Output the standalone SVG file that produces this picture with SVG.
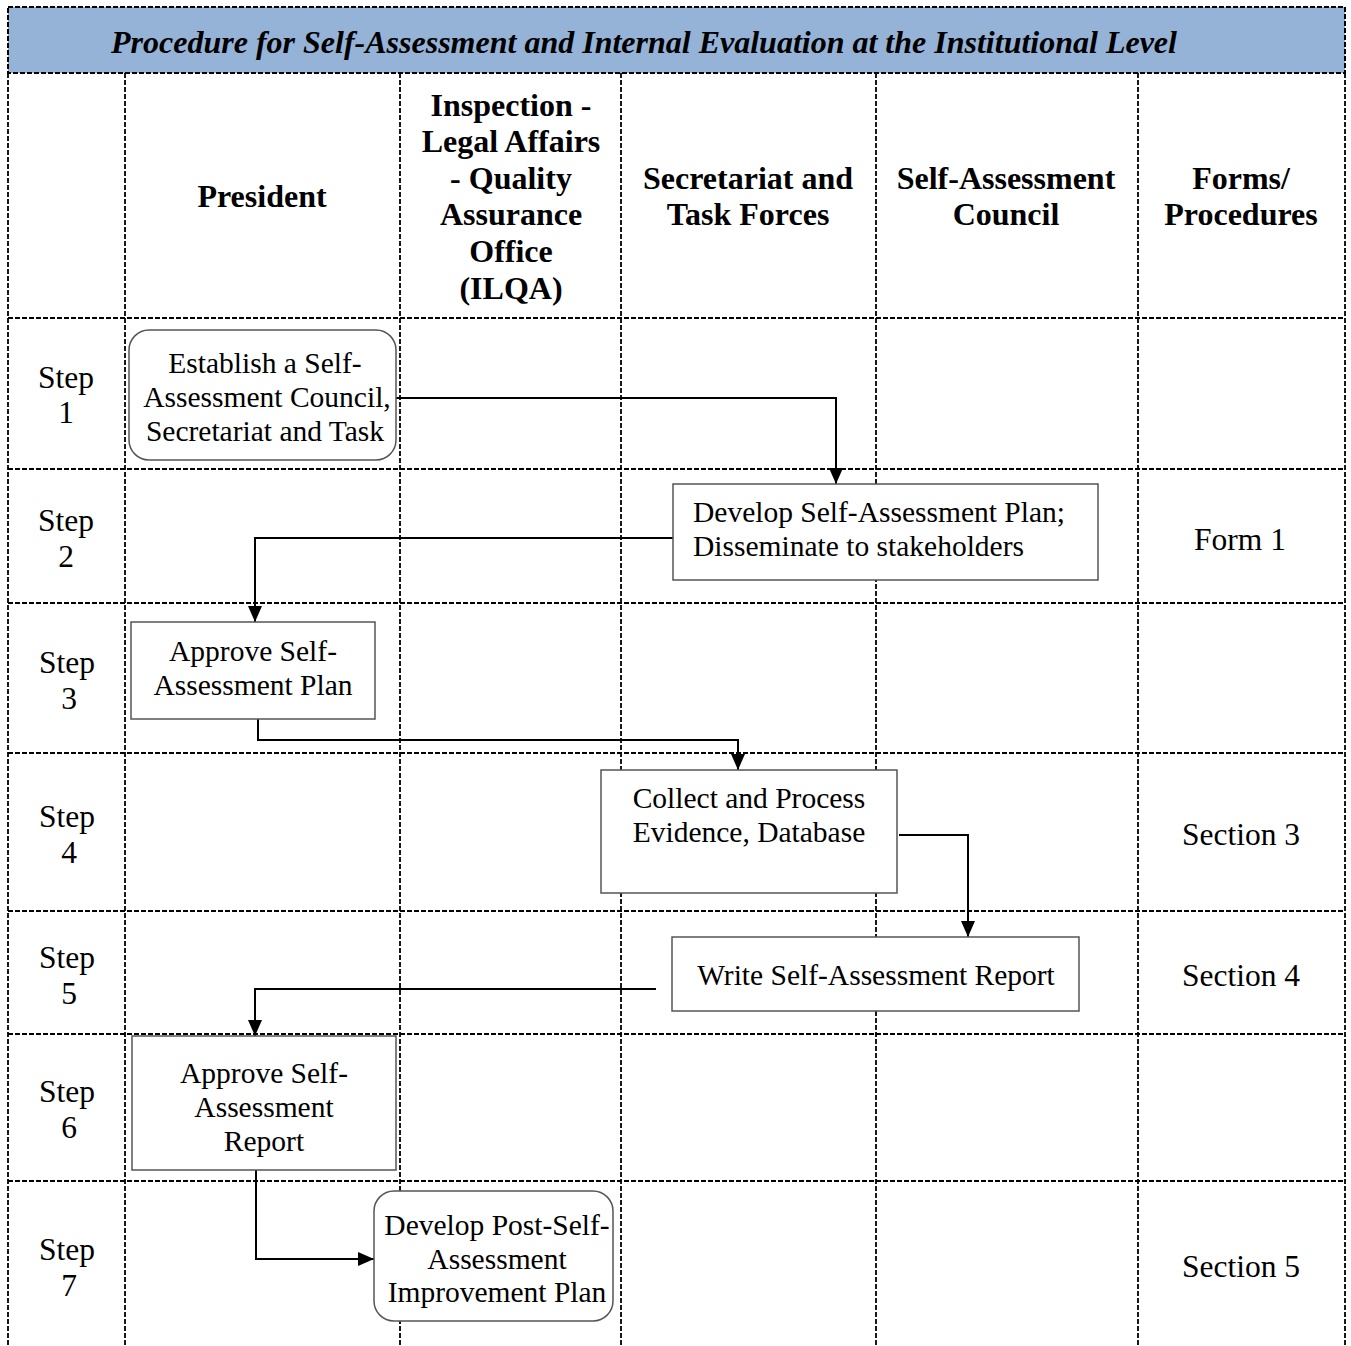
<svg xmlns="http://www.w3.org/2000/svg" width="1351" height="1346" viewBox="0 0 1351 1346">
<defs>
<style>
.grid{stroke:#000;stroke-width:2;stroke-dasharray:5 2;fill:none}
.gv{stroke:#000;stroke-width:1.8;stroke-dasharray:5 2;fill:none}
.box{fill:#fff;stroke:#555;stroke-width:1.5}
.conn{stroke:#000;stroke-width:2;fill:none}
.t{font-family:"Liberation Serif","Times New Roman",serif;font-size:29.5px;fill:#000}
.s{font-size:31.5px}
.h{font-family:"Liberation Serif","Times New Roman",serif;font-size:32px;font-weight:bold;fill:#000;text-anchor:middle}
.c{text-anchor:middle}
</style>
<marker id="arr" viewBox="0 0 16 14" refX="16" refY="7" markerWidth="16" markerHeight="14" orient="auto" markerUnits="userSpaceOnUse">
<path d="M0,0 L16,7 L0,14 Z" fill="#000"/>
</marker>
</defs>
<rect width="1351" height="1346" fill="#fff"/>
<g id="title">
<rect x="8" y="7" width="1337" height="66" style="fill:#95B3D7;stroke:#000;stroke-width:2;stroke-dasharray:5 2"/>
<text x="644" y="53" class="h" style="font-style:italic">Procedure for Self-Assessment and Internal Evaluation at the Institutional Level</text>
</g>
<g id="grid">
<line x1="8" y1="73" x2="8" y2="1346" class="gv"/>
<line x1="125" y1="73" x2="125" y2="1346" class="gv"/>
<line x1="400" y1="73" x2="400" y2="1346" class="gv"/>
<line x1="621" y1="73" x2="621" y2="1346" class="gv"/>
<line x1="876" y1="73" x2="876" y2="1346" class="gv"/>
<line x1="1138" y1="73" x2="1138" y2="1346" class="gv"/>
<line x1="1345" y1="73" x2="1345" y2="1346" class="gv"/>
<line x1="8" y1="318" x2="1345" y2="318" class="grid"/>
<line x1="8" y1="469" x2="1345" y2="469" class="grid"/>
<line x1="8" y1="603" x2="1345" y2="603" class="grid"/>
<line x1="8" y1="753" x2="1345" y2="753" class="grid"/>
<line x1="8" y1="911" x2="1345" y2="911" class="grid"/>
<line x1="8" y1="1034" x2="1345" y2="1034" class="grid"/>
<line x1="8" y1="1181" x2="1345" y2="1181" class="grid"/>
</g>
<g id="headers">
<text x="262" y="207" class="h">President</text>
<text x="511" y="116" class="h">Inspection -</text>
<text x="511" y="152" class="h">Legal Affairs</text>
<text x="511" y="189" class="h">- Quality</text>
<text x="511" y="225" class="h">Assurance</text>
<text x="511" y="262" class="h">Office</text>
<text x="511" y="299" class="h">(ILQA)</text>
<text x="748" y="189" class="h">Secretariat and</text>
<text x="748" y="225" class="h">Task Forces</text>
<text x="1006" y="189" class="h">Self-Assessment</text>
<text x="1006" y="225" class="h">Council</text>
<text x="1241" y="189" class="h">Forms/</text>
<text x="1241" y="225" class="h">Procedures</text>
</g>
<g id="steps" class="t s c">
<text x="66" y="388">Step</text><text x="66" y="423">1</text>
<text x="66" y="531">Step</text><text x="66" y="567">2</text>
<text x="67" y="673">Step</text><text x="69" y="709">3</text>
<text x="67" y="827">Step</text><text x="69" y="863">4</text>
<text x="67" y="968">Step</text><text x="69" y="1004">5</text>
<text x="67" y="1102">Step</text><text x="69" y="1138">6</text>
<text x="67" y="1260">Step</text><text x="69" y="1296">7</text>
</g>
<g id="forms" class="t s c">
<text x="1240" y="550">Form 1</text>
<text x="1241" y="845">Section 3</text>
<text x="1241" y="986">Section 4</text>
<text x="1241" y="1277">Section 5</text>
</g>
<g id="connectors">
<path d="M396,398 H836 V484" class="conn" marker-end="url(#arr)"/>
<path d="M673,538 H255 V622" class="conn" marker-end="url(#arr)"/>
<path d="M258,719 V740 H738 V770" class="conn" marker-end="url(#arr)"/>
<path d="M899,835 H968 V937" class="conn" marker-end="url(#arr)"/>
<path d="M656,989 H255 V1036" class="conn" marker-end="url(#arr)"/>
<path d="M256,1170 V1259 H374" class="conn" marker-end="url(#arr)"/>
</g>
<g id="n1">
<rect x="129" y="330" width="267" height="130" rx="20" class="box"/>
<text class="t c" x="265" y="373">Establish a Self-</text>
<text class="t c" x="267" y="407">Assessment Council,</text>
<text class="t c" x="265" y="441">Secretariat and Task</text>
</g>
<g id="n2">
<rect x="673" y="484" width="425" height="96" class="box"/>
<text class="t" x="693" y="522">Develop Self-Assessment Plan;</text>
<text class="t" x="693" y="556">Disseminate to stakeholders</text>
</g>
<g id="n3">
<rect x="131" y="622" width="244" height="97" class="box"/>
<text class="t c" x="253" y="661">Approve Self-</text>
<text class="t c" x="253" y="695">Assessment Plan</text>
</g>
<g id="n4">
<rect x="601" y="770" width="296" height="123" class="box"/>
<text class="t c" x="749" y="808">Collect and Process</text>
<text class="t c" x="749" y="842">Evidence, Database</text>
</g>
<g id="n5">
<rect x="672" y="937" width="407" height="74" class="box"/>
<text class="t c" x="876" y="985">Write Self-Assessment Report</text>
</g>
<g id="n6">
<rect x="132" y="1036" width="264" height="134" class="box"/>
<text class="t c" x="264" y="1083">Approve Self-</text>
<text class="t c" x="264" y="1117">Assessment</text>
<text class="t c" x="264" y="1151">Report</text>
</g>
<g id="n7">
<rect x="374" y="1191" width="239" height="130" rx="20" class="box"/>
<text class="t c" x="497" y="1235">Develop Post-Self-</text>
<text class="t c" x="497" y="1269">Assessment</text>
<text class="t c" x="497" y="1302">Improvement Plan</text>
</g>
</svg>
